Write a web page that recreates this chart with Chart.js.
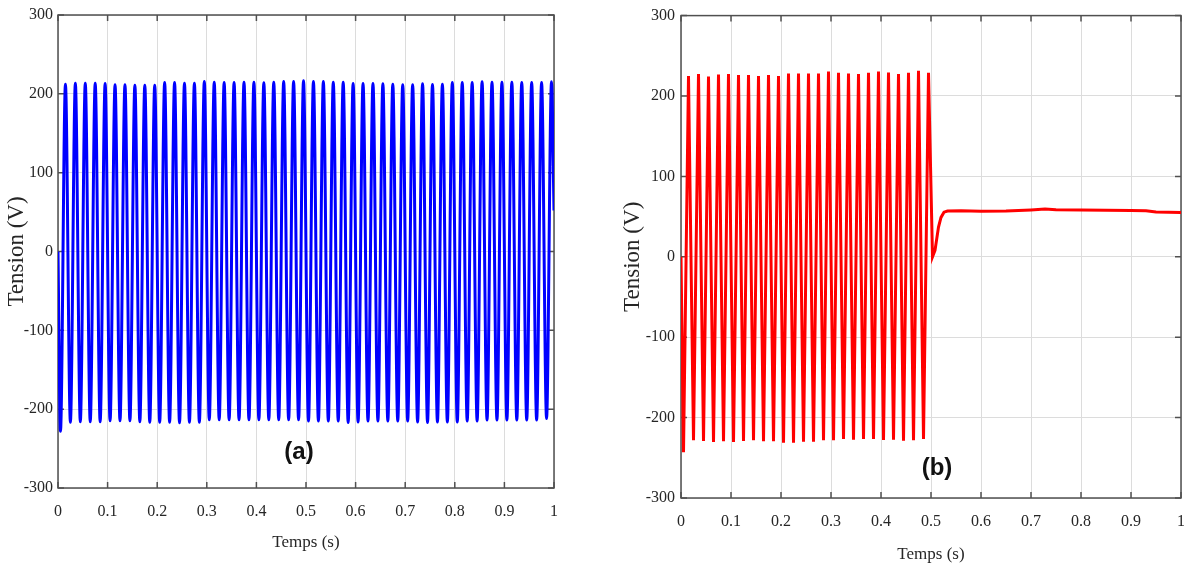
<!DOCTYPE html>
<html>
<head>
<meta charset="utf-8">
<script src="https://cdn.jsdelivr.net/npm/chart.js@4.4.0/dist/chart.umd.min.js"></script>
<style>
    html, body { margin: 0; padding: 0; background: #fff; width: 1184px; height: 571px; overflow: hidden; position: relative; }
    canvas { position: absolute; top: 0; }
    #chartA { left: 0; }
    #chartB { left: 600px; }
    .tag { position: absolute; font: bold 24px "Liberation Sans", sans-serif; color: #111; transform: translate(-50%, -50%); }
</style>
</head>
<body>
<canvas id="chartA" width="590" height="571"></canvas>
<canvas id="chartB" width="600" height="571"></canvas>
<div class="tag" style="left:299px; top:451px;">(a)</div>
<div class="tag" style="left:937px; top:467px;">(b)</div>
<script>
// panel (a) : tension, extrema
var timeA = [
    0,
    0.005, 0.015, 0.025, 0.035, 0.045, 0.055, 0.065, 0.075, 0.085, 0.095,
    0.105, 0.115, 0.125, 0.135, 0.145, 0.155, 0.165, 0.175, 0.185, 0.195,
    0.205, 0.215, 0.225, 0.235, 0.245, 0.255, 0.265, 0.275, 0.285, 0.295,
    0.305, 0.315, 0.325, 0.335, 0.345, 0.355, 0.365, 0.375, 0.385, 0.395,
    0.405, 0.415, 0.425, 0.435, 0.445, 0.455, 0.465, 0.475, 0.485, 0.495,
    0.505, 0.515, 0.525, 0.535, 0.545, 0.555, 0.565, 0.575, 0.585, 0.595,
    0.605, 0.615, 0.625, 0.635, 0.645, 0.655, 0.665, 0.675, 0.685, 0.695,
    0.705, 0.715, 0.725, 0.735, 0.745, 0.755, 0.765, 0.775, 0.785, 0.795,
    0.805, 0.815, 0.825, 0.835, 0.845, 0.855, 0.865, 0.875, 0.885, 0.895,
    0.905, 0.915, 0.925, 0.935, 0.945, 0.955, 0.965, 0.975, 0.985, 0.995,
    1
];
var voltA = [
    0,
    -228, 212.2, -216.5, 213.5, -216, 213.5, -216, 213.5, -216, 213.1,
    -214.7, 211.4, -214.7, 211.4, -214.7, 211, -216, 211, -216.5, 211,
    -216.5, 214.3, -216.5, 214.3, -217.3, 213.5, -216.5, 213.5, -216.5, 215.6,
    -213.5, 214.7, -213.5, 214.3, -213.5, 214.3, -213.5, 214.7, -213.5, 214.7,
    -213.5, 214, -213.5, 214.7, -213.5, 215.6, -213.5, 215.6, -213.5, 216.5,
    -215, 215.6, -215, 215.6, -215, 214.7, -215, 214.7, -217, 213.1,
    -216.2, 213.1, -215, 213.1, -215, 212.7, -215, 212.2, -215, 211.4,
    -215, 211.4, -216.2, 212.7, -217, 211.8, -216.2, 212.2, -216.2, 214.3,
    -216.2, 214.3, -215, 214.3, -215, 215.2, -213.7, 214.7, -213.7, 214.7,
    -213.7, 214.7, -213.7, 214.3, -213.7, 214.3, -213.7, 214.3, -211.7, 215.2,
    52
];

// panel (b)
var timeB = [
    0,
    0.005, 0.015, 0.025, 0.035, 0.045, 0.055, 0.065, 0.075, 0.085, 0.095,
    0.105, 0.115, 0.125, 0.135, 0.145, 0.155, 0.165, 0.175, 0.185, 0.195,
    0.205, 0.215, 0.225, 0.235, 0.245, 0.255, 0.265, 0.275, 0.285, 0.295,
    0.305, 0.315, 0.325, 0.335, 0.345, 0.355, 0.365, 0.375, 0.385, 0.395,
    0.405, 0.415, 0.425, 0.435, 0.445, 0.455, 0.465, 0.475, 0.485, 0.495,
    0.503, 0.508, 0.515, 0.52, 0.526, 0.533, 0.56, 0.6, 0.65, 0.7,
    0.728, 0.75, 0.8, 0.9, 0.93, 0.95, 1
];
var voltB = [
    0,
    -243, 225, -228.3, 227.2, -229.1, 224.2, -230.4, 226.7, -229.5, 227.2,
    -230.4, 226, -229.1, 226, -228.3, 225, -229.5, 226, -229.5, 225,
    -231.2, 227.9, -231.2, 227.9, -230, 227.9, -230, 227.9, -228.3, 230.4,
    -228.3, 228.8, -226.7, 227.9, -227.4, 227.2, -226.7, 228.8, -226.7, 230.4,
    -227.9, 229.2, -227.4, 227.2, -228.7, 228.8, -228.3, 231.3, -226.7, 228.8,
    0, 8, 37, 49, 55.5, 57, 57.3, 56.5, 57, 58.3,
    59.3, 58.5, 58.2, 57.7, 57.3, 55.8, 55
];

var xTicks = [0, 0.1, 0.2, 0.3, 0.4, 0.5, 0.6, 0.7, 0.8, 0.9, 1];
var yTicks = [-300, -200, -100, 0, 100, 200, 300];

var serif = '"Liberation Serif", "Times New Roman", serif';
var textColor = '#262626';
var gridColor = '#dcdcdc';

function toPoints(t, v) {
    return t.map(function (x, i) { return { x: x, y: v[i] }; });
}

// matlab style box with inward ticks
var framePlugin = {
    id: 'frame',
    beforeDatasetsDraw: function (chart) {
        var a = chart.chartArea, ctx = chart.ctx;
        var sx = chart.scales.x, sy = chart.scales.y;
        ctx.save();
        ctx.strokeStyle = '#505050';
        ctx.lineWidth = 1.5;
        ctx.strokeRect(a.left, a.top, a.right - a.left, a.bottom - a.top);
        ctx.beginPath();
        sx.ticks.forEach(function (t) {
            var px = sx.getPixelForValue(t.value);
            ctx.moveTo(px, a.bottom); ctx.lineTo(px, a.bottom - 6);
            ctx.moveTo(px, a.top); ctx.lineTo(px, a.top + 6);
        });
        sy.ticks.forEach(function (t) {
            var py = sy.getPixelForValue(t.value);
            ctx.moveTo(a.left, py); ctx.lineTo(a.left + 6, py);
            ctx.moveTo(a.right, py); ctx.lineTo(a.right - 6, py);
        });
        ctx.stroke();
        ctx.restore();
    }
};

function makeChart(id, times, volts, color, box) {
    return new Chart(document.getElementById(id), {
        type: 'line',
        data: {
            datasets: [{
                data: toPoints(times, volts),
                borderColor: color,
                borderWidth: 3,
                pointRadius: 0,
                fill: false,
                tension: box.tension,
                cubicInterpolationMode: box.mode
            }]
        },
        options: {
            responsive: false,
            animation: false,
            devicePixelRatio: 1,
            layout: { padding: { top: 15, right: box.padRight, bottom: 0, left: 0 } },
            plugins: { legend: { display: false }, tooltip: { enabled: false } },
            scales: {
                x: {
                    type: 'linear', min: 0, max: 1,
                    afterBuildTicks: function (s) { s.ticks = xTicks.map(function (v) { return { value: v }; }); },
                    afterFit: function (s) { s.height = box.xHeight; },
                    grid: { color: gridColor, drawTicks: false },
                    border: { display: false },
                    ticks: {
                        padding: 14, color: textColor, autoSkip: false, maxRotation: 0,
                        font: { family: serif, size: 16, lineHeight: 1.2 },
                        callback: function (v) { return String(v); }
                    },
                    title: {
                        display: true, text: 'Temps (s)', color: textColor,
                        font: { family: serif, size: 17, lineHeight: 1.2 },
                        padding: { top: 0, bottom: box.xTitlePad }
                    }
                },
                y: {
                    type: 'linear', min: -300, max: 300,
                    afterBuildTicks: function (s) { s.ticks = yTicks.map(function (v) { return { value: v }; }); },
                    afterFit: function (s) { s.width = box.yWidth; },
                    grid: { color: gridColor, drawTicks: false },
                    border: { display: false },
                    ticks: {
                        padding: box.yTickPad, color: textColor, autoSkip: false,
                        font: { family: serif, size: 16, lineHeight: 1.2 },
                        callback: function (v) { return String(v); }
                    },
                    title: {
                        display: true, text: 'Tension (V)', color: textColor,
                        font: { family: serif, size: 23, lineHeight: 1.2 },
                        padding: { top: box.yTitlePad, bottom: 0 }
                    }
                }
            }
        },
        plugins: [framePlugin]
    });
}

makeChart('chartA', timeA, voltA, '#0000ff', {
    tension: 0.4, mode: 'monotone', padRight: 36,
    xHeight: 83, xTitlePad: 18, yWidth: 58, yTickPad: 5, yTitlePad: 3
});
makeChart('chartB', timeB, voltB, '#ff0000', {
    tension: 0, mode: 'default', padRight: 19,
    xHeight: 73, xTitlePad: 6, yWidth: 81, yTickPad: 6, yTitlePad: 19
});
</script>
</body>
</html>
